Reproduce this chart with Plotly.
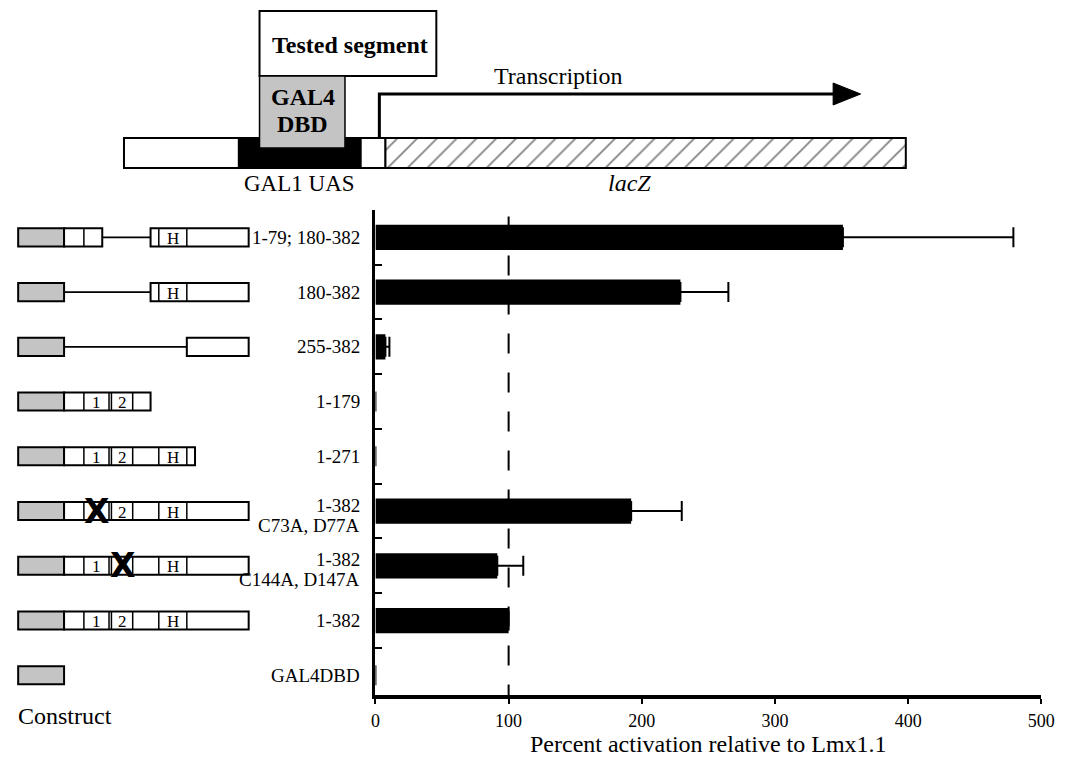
import math
import plotly.graph_objects as go

# The page body keeps its default 8px margin: keep a full-size figure and shift the
# layout by that margin so positions can be given in reference-picture pixels.
OFF = 8
W, H = 1067, 763
SERIF = "Liberation Serif, Times New Roman, serif"


def fx(px):
    return (px - OFF) / W


def fy(py):
    return 1 - (py - OFF) / H


# ---------------- data ----------------
construct_labels = ["1-79; 180-382", "180-382", "255-382", "1-179", "1-271",
                    "1-382", "1-382", "1-382", "GAL4DBD"]
mutation_labels = ["", "", "", "", "", "C73A, D77A", "C144A, D147A", "", ""]
activation = [351, 229, 7.5, 0, 0, 192, 91.5, 100, 0]
activation_err = [128, 36, 3, None, None, 38, 19.5, None, None]
construct_segments = [[(1, 79), (180, 382)], [(180, 382)], [(255, 382)], [(1, 179)],
                      [(1, 271)], [(1, 382)], [(1, 382)], [(1, 382)], []]
mutated_domain = [None, None, None, None, None, "1", "2", None, None]
domain_names = ["1", "2", "H"]
domain_starts = [41, 98, 196]
domain_ends = [93, 142, 254]
dbd_span = (-95, 0)
x_ticks = [0, 100, 200, 300, 400, 500]
reference_level = 100

rows = list(range(len(construct_labels)))
GRAY = "#c4c4c4"

fig = go.Figure()

err_plus = [math.nan if e is None else e for e in activation_err]
err_minus = [math.nan if e is None else 0 for e in activation_err]
fig.add_trace(go.Bar(
    x=activation, y=rows, orientation="h", width=0.46,
    marker=dict(color="black", line=dict(width=0)),
    error_x=dict(type="data", symmetric=False, array=err_plus, arrayminus=err_minus,
                 color="black", thickness=2, width=10),
    xaxis="x", yaxis="y", showlegend=False, hoverinfo="skip"))

fig.add_trace(go.Scatter(x=[0], y=[0], xaxis="x2", yaxis="y2", mode="markers",
                         marker=dict(opacity=0), showlegend=False, hoverinfo="skip"))

# hatched lacZ segment of the reporter (pixel axes x3/y3)
fig.add_trace(go.Bar(
    x=[917 - 387], base=[387], y=[153], width=[30], orientation="h",
    marker=dict(color="white", line=dict(color="black", width=2),
                pattern=dict(shape="/", fgcolor="black", bgcolor="white", size=14, solidity=0.12)),
    xaxis="x3", yaxis="y3", showlegend=False, hoverinfo="skip"))

shapes = []
annotations = []

# ---------------- construct schematics ----------------
BH = 0.165
for i in rows:
    shapes.append(dict(type="rect", xref="x2", yref="y2", x0=dbd_span[0], x1=dbd_span[1],
                       y0=i - BH, y1=i + BH, fillcolor=GRAY, line=dict(color="black", width=2)))
    prev_end = dbd_span[1]
    for (s, e) in construct_segments[i]:
        x0 = s - 1
        if x0 > prev_end:
            shapes.append(dict(type="line", xref="x2", yref="y2", x0=prev_end, x1=x0, y0=i, y1=i,
                               line=dict(color="black", width=1.8)))
        shapes.append(dict(type="rect", xref="x2", yref="y2", x0=x0, x1=e, y0=i - BH, y1=i + BH,
                           fillcolor="white", line=dict(color="black", width=2)))
        for name, a, b in zip(domain_names, domain_starts, domain_ends):
            for v in (a, b):
                if x0 < v < e:
                    shapes.append(dict(type="line", xref="x2", yref="y2", x0=v, x1=v,
                                       y0=i - BH, y1=i + BH, line=dict(color="black", width=1.5)))
            if x0 <= a and b <= e:
                if mutated_domain[i] == name:
                    annotations.append(dict(xref="x2", yref="y2", x=(a + b) / 2, y=i, text="<b>X</b>",
                                            xanchor="center", yanchor="middle", showarrow=False,
                                            font=dict(family="DejaVu Sans", size=33, color="black")))
                else:
                    annotations.append(dict(xref="x2", yref="y2", x=(a + b) / 2, y=i + 0.02, text=name,
                                            xanchor="center", yanchor="middle", showarrow=False,
                                            font=dict(family=SERIF, size=17, color="black")))
        prev_end = e
    lab_font = dict(family=SERIF, size=19, color="black")
    if mutation_labels[i]:
        annotations.append(dict(xref="paper", yref="y2", x=fx(363), y=i, yshift=6, text=construct_labels[i],
                                xanchor="right", yanchor="middle", showarrow=False, font=lab_font))
        annotations.append(dict(xref="paper", yref="y2", x=fx(363), y=i, yshift=-14, text=mutation_labels[i],
                                xanchor="right", yanchor="middle", showarrow=False, font=lab_font))
    else:
        annotations.append(dict(xref="paper", yref="y2", x=fx(363), y=i, text=construct_labels[i],
                                xanchor="right", yanchor="middle", showarrow=False, font=lab_font))

shapes.append(dict(type="line", xref="x", yref="y", x0=reference_level, x1=reference_level,
                   y0=-0.38, y1=8.36, line=dict(color="black", width=2, dash="20px,19px"), layer="below"))

# ---------------- reporter diagram ----------------
def prect(x0, x1, y0, y1, fill, lw=2, lc="black"):
    shapes.append(dict(type="rect", xref="x3", yref="y3", x0=x0, x1=x1, y0=y0, y1=y1,
                       fillcolor=fill, line=dict(color=lc, width=lw)))


prect(121, 238, 138, 168, "white")
prect(238, 362, 138, 168, "black")
prect(362, 387, 138, 168, "white")
prect(259, 439, 11, 76, "white")
prect(259, 346, 76, 148, GRAY, lw=1.5)
shapes.append(dict(type="path", xref="x3", yref="y3", path="M381,138 L381,94 L848,94",
                   line=dict(color="black", width=3)))
shapes.append(dict(type="path", xref="x3", yref="y3", path="M843,83 L871,94 L843,105 Z",
                   fillcolor="black", line=dict(color="black", width=1)))


def ptext(x, y, t, size, bold=False, italic=False):
    if bold:
        t = "<b>" + t + "</b>"
    if italic:
        t = "<i>" + t + "</i>"
    annotations.append(dict(xref="x3", yref="y3", x=x, y=y, text=t, showarrow=False,
                            xanchor="center", yanchor="middle",
                            font=dict(family=SERIF, size=size, color="black")))


ptext(351, 45, "Tested segment", 24, bold=True)
ptext(303, 97, "GAL4", 24, bold=True)
ptext(303, 124, "DBD", 24, bold=True)
ptext(563, 76, "Transcription", 24)
ptext(300, 183, "GAL1 UAS", 23)
ptext(636, 183, "lacZ", 24, italic=True)

annotations.append(dict(xref="paper", yref="paper", x=fx(11), y=fy(716), text="Construct",
                        xanchor="left", yanchor="middle", showarrow=False,
                        font=dict(family=SERIF, size=24, color="black")))
annotations.append(dict(xref="paper", yref="paper", x=fx(716), y=fy(744),
                        text="Percent activation relative to Lmx1.1",
                        xanchor="center", yanchor="middle", showarrow=False,
                        font=dict(family=SERIF, size=24, color="black")))

y_dom = [fy(695), fy(210)]
fig.update_layout(
    width=W, height=H, margin=dict(l=0, r=0, t=0, b=0),
    paper_bgcolor="white", plot_bgcolor="rgba(0,0,0,0)",
    showlegend=False, barmode="overlay",
    shapes=shapes, annotations=annotations,
    xaxis=dict(domain=[fx(377), fx(1055)], range=[0, 500], tickvals=x_ticks,
               ticks="outside", ticklen=5, tickwidth=1.5, tickcolor="black",
               showline=True, linewidth=4, linecolor="black", showgrid=False, zeroline=False,
               tickfont=dict(family=SERIF, size=18, color="black"), ticklabelstandoff=1,
               ticklabeloverflow="allow", anchor="y", fixedrange=True),
    yaxis=dict(domain=y_dom, range=[8.36, -0.5], tickvals=[k - 0.5 for k in range(9)],
               ticks="inside", ticklen=7, tickwidth=1.5, tickcolor="black",
               showline=True, linewidth=3, linecolor="black", showgrid=False, zeroline=False,
               showticklabels=False, anchor="x", fixedrange=True),
    xaxis2=dict(domain=[0, fx(377)], range=[(OFF - 60) / 0.492, (377 - 60) / 0.492], visible=False,
                anchor="y2", fixedrange=True),
    yaxis2=dict(domain=y_dom, range=[8.36, -0.5], visible=False, anchor="x2", fixedrange=True),
    xaxis3=dict(domain=[0, 1], range=[OFF, OFF + W], visible=False, anchor="y3", fixedrange=True),
    yaxis3=dict(domain=[0, 1], range=[OFF + H, OFF], visible=False, anchor="x3", fixedrange=True),
)

fig.write_html("out.html")
